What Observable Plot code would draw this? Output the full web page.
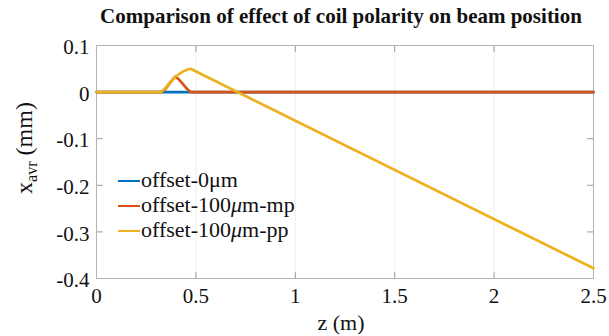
<!DOCTYPE html>
<html>
<head>
<meta charset="utf-8">
<script src="https://cdn.jsdelivr.net/npm/d3@7"></script>
<script src="https://cdn.jsdelivr.net/npm/@observablehq/plot@0.6"></script>
<style>
  html, body { margin: 0; padding: 0; background: #fff; }
  #wrap { position: relative; width: 609px; height: 336px; font-family: "Liberation Serif", "Times New Roman", serif; }
  .ov { position: absolute; white-space: nowrap; color: #111; font-family: "Liberation Serif", "Times New Roman", serif; }
  .leg { position: absolute; left: 118px; font-size: 22px; line-height: 22px; white-space: nowrap; color: #111; font-family: "Liberation Serif", "Times New Roman", serif; }
  .leg span.sw { display: inline-block; width: 22px; height: 2.5px; vertical-align: middle; margin-right: 1px; position: relative; top: -1px; }
</style>
</head>
<body>
<div id="wrap"></div>
<script>
const title = "Comparison of effect of coil polarity on beam position";
const xLabel = "z (m)";
const xTicks = [0, 0.5, 1, 1.5, 2, 2.5];
const yTicks = [0.1, 0, -0.1, -0.2, -0.3, -0.4];
const seriesNames = ["offset-0\u03bcm", "offset-100\u03bcm-mp", "offset-100\u03bcm-pp"];
const colors = ["#0072BD", "#D95319", "#EDB120"];

// series: z (m) and x_avr (mm)
const z0 = [0, 0.325, 0.473, 2.5];
const x0 = [0, 0, 0, 0];
const zMp = [0, 0.325, 0.345, 0.365, 0.385, 0.397, 0.415, 0.435, 0.455, 0.473, 2.5];
const xMp = [0, 0, 0.006, 0.017, 0.028, 0.0335, 0.027, 0.017, 0.007, 0, 0];
const zPp = [0, 0.325, 0.345, 0.37, 0.40, 0.43, 0.455, 0.473, 2.5];
const xPp = [0, 0, 0.008, 0.021, 0.034, 0.043, 0.048, 0.050, -0.378];

const data = [];
[[z0, x0], [zMp, xMp], [zPp, xPp]].forEach(([zs, xs], i) => {
  zs.forEach((z, j) => data.push({series: seriesNames[i], z, x: xs[j]}));
});

const tickShape = {draw(context, l) { context.moveTo(0, 0); context.lineTo(0, -l); }};
const tickStyle = {stroke: "#9a9a9a", strokeWidth: 1, length: 6, anchor: "start", shape: tickShape};

const plot = Plot.plot({
  width: 609,
  height: 336,
  marginLeft: 96,
  marginRight: 16,
  marginTop: 45,
  marginBottom: 58,
  style: {fontFamily: "'Liberation Serif', 'Times New Roman', serif", color: "#111", background: "#fff"},
  x: {domain: [0, 2.5], ticks: xTicks},
  y: {domain: [-0.4, 0.1], ticks: yTicks},
  color: {domain: seriesNames, range: colors},
  marks: [
    Plot.gridX(xTicks, {stroke: "#000", strokeOpacity: 0.07, strokeWidth: 1}),
    // inward ticks on all four sides
    Plot.vector(xTicks, {x: d => d, y: -0.4, rotate: 0, ...tickStyle}),
    Plot.vector(xTicks, {x: d => d, y: 0.1, rotate: 180, ...tickStyle}),
    Plot.vector(yTicks, {x: 0, y: d => d, rotate: 90, ...tickStyle}),
    Plot.vector(yTicks, {x: 2.5, y: d => d, rotate: 270, ...tickStyle}),
    Plot.frame({stroke: "#b4b4b4", strokeWidth: 1}),
    Plot.axisX({ticks: xTicks, tickSize: 0, tickPadding: 10, tickFormat: d => String(d), fontSize: 21, label: null}),
    Plot.axisY({ticks: yTicks, tickSize: 0, tickPadding: 7, dy: 2, tickFormat: d => String(d), fontSize: 21, label: null}),
    Plot.line(data, {x: "z", y: "x", z: "series", stroke: "series", strokeWidth: 2.7, curve: "linear"})
  ]
});
plot.setAttribute("font-family", "'Liberation Serif', 'Times New Roman', serif");
const wrap = document.getElementById("wrap");
plot.style.position = "absolute";
plot.style.left = "0";
plot.style.top = "0";
wrap.appendChild(plot);

const t = document.createElement("div");
t.className = "ov";
t.textContent = title;
t.style.cssText = "left:96px;width:490px;text-align:center;top:4px;font-weight:bold;font-size:21px;";
wrap.appendChild(t);

const xl = document.createElement("div");
xl.className = "ov";
xl.textContent = xLabel;
xl.style.cssText = "left:96px;width:490px;text-align:center;top:312px;font-size:22px;line-height:22px;";
wrap.appendChild(xl);

const yl = document.createElement("div");
yl.className = "ov";
yl.innerHTML = "x<sub style='font-size:16px;vertical-align:-5px'>avr</sub> (mm)";
yl.style.cssText = "left:28px;top:148px;font-size:24px;line-height:24px;transform:translate(-50%,-50%) rotate(-90deg);";
wrap.appendChild(yl);

const legY = [169, 194, 219];
seriesNames.forEach((name, i) => {
  const d = document.createElement("div");
  d.className = "leg";
  d.style.top = legY[i] + "px";
  const parts = name.split("\u03bc");
  const mu = i === 0 ? "\u03bc" : "<i>\u03bc</i>";
  d.innerHTML = `<span class="sw" style="background:${colors[i]}"></span>${parts[0]}${mu}${parts[1]}`;
  wrap.appendChild(d);
});
</script>
</body>
</html>
